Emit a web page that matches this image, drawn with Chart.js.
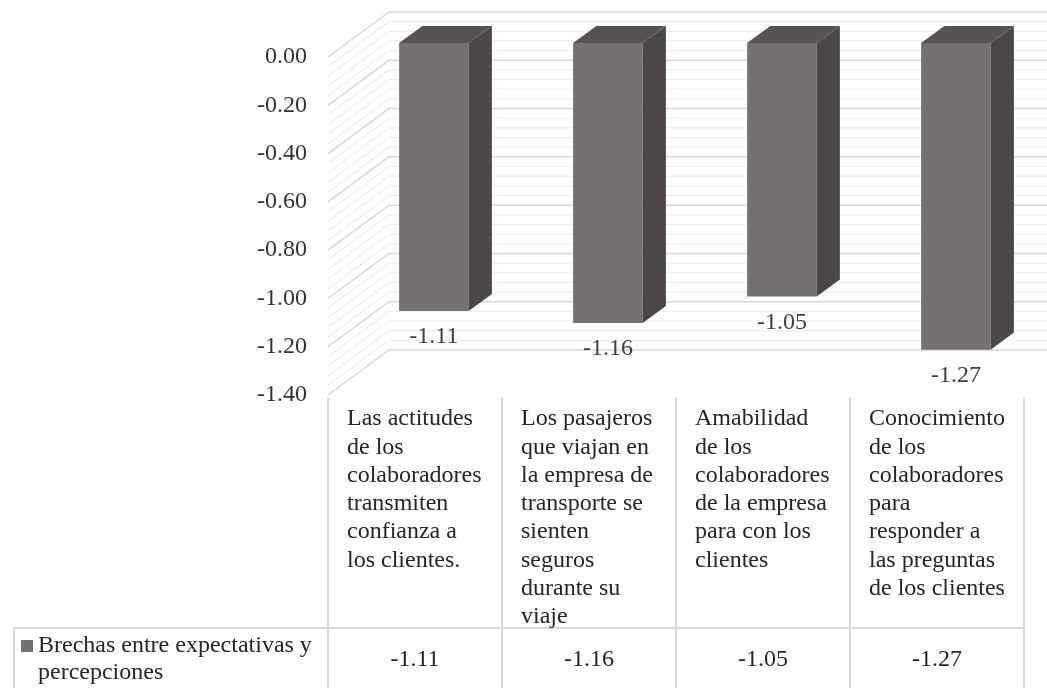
<!DOCTYPE html>
<html>
<head>
<meta charset="utf-8">
<script src="https://cdn.jsdelivr.net/npm/chart.js@4.4.1/dist/chart.umd.min.js"></script>
<style>
  html, body { margin: 0; padding: 0; background: #ffffff; }
  #wrap { width: 1047px; height: 688px; }
</style>
</head>
<body>
<div id="wrap"><canvas id="chart" width="1047" height="688"></canvas></div>
<script>
'use strict';

// data
let categories = [
    ['Las actitudes', 'de los', 'colaboradores', 'transmiten', 'confianza a', 'los clientes.'],
    ['Los pasajeros', 'que viajan en', 'la empresa de', 'transporte se', 'sienten', 'seguros', 'durante su', 'viaje'],
    ['Amabilidad', 'de los', 'colaboradores', 'de la empresa', 'para con los', 'clientes'],
    ['Conocimiento', 'de los', 'colaboradores', 'para', 'responder a', 'las preguntas', 'de los clientes']
];
let brechas = [-1.11, -1.16, -1.05, -1.27];
let seriesName = ['Brechas entre expectativas y', 'percepciones'];
let yMin = -1.4;
let yMax = 0;
let yStep = 0.2;
let minorStep = 0.04;

const SERIF = "'Liberation Serif', 'Times New Roman', serif";
const FRONT = '#757170';
const SIDE = '#4b4746';
const TOP = '#585352';

// 3d look: full depth of the walls, bars sit in the middle of it
const depthX = 61;
const depthY = 45;
const barFront = 0.31;
const barBack = 0.69;

const threeD = {
    id: 'threeD',
    beforeDatasetsDraw(chart) {
        const ctx = chart.ctx;
        const area = chart.chartArea;
        const y = chart.scales.y;
        ctx.save();
        let n = Math.round((yMax - yMin) / minorStep);
        for (let i = n; i >= 0; i--) {
            let v = yMax - i * minorStep;
            let py = y.getPixelForValue(v);
            let major = i % Math.round(yStep / minorStep) === 0;
            ctx.strokeStyle = major ? '#d9d9d9' : '#efefef';
            ctx.lineWidth = major ? 1.5 : 1.2;
            ctx.beginPath();
            ctx.moveTo(area.left, py);
            ctx.lineTo(area.left + depthX, py - depthY);
            ctx.lineTo(area.right + depthX, py - depthY);
            ctx.stroke();
        }
        ctx.restore();

        // bars are drawn a bit back into the box
        ctx.save();
        ctx.translate(depthX * barFront, -depthY * barFront);
    },
    afterDatasetsDraw(chart) {
        const ctx = chart.ctx;
        const meta = chart.getDatasetMeta(0);
        const dx = depthX * (barBack - barFront);
        const dy = depthY * (barBack - barFront);
        meta.data.forEach((bar, i) => {
            let left = bar.x - bar.width / 2;
            let right = bar.x + bar.width / 2;
            let top = Math.min(bar.y, bar.base);
            let bottom = Math.max(bar.y, bar.base);

            ctx.fillStyle = SIDE;
            ctx.beginPath();
            ctx.moveTo(right, top);
            ctx.lineTo(right + dx, top - dy);
            ctx.lineTo(right + dx, bottom - dy);
            ctx.lineTo(right, bottom);
            ctx.closePath();
            ctx.fill();

            ctx.fillStyle = TOP;
            ctx.beginPath();
            ctx.moveTo(left, top);
            ctx.lineTo(left + dx, top - dy);
            ctx.lineTo(right + dx, top - dy);
            ctx.lineTo(right, top);
            ctx.closePath();
            ctx.fill();

            ctx.fillStyle = '#404040';
            ctx.font = '24px ' + SERIF;
            ctx.textAlign = 'center';
            ctx.textBaseline = 'middle';
            ctx.fillText(brechas[i].toFixed(2), bar.x, bottom + 26);
        });
        ctx.restore();
    },
    afterDraw(chart) {
        // data table under the plot
        const ctx = chart.ctx;
        const area = chart.chartArea;
        const x = chart.scales.x;
        const colW = (area.right - area.left) / categories.length;
        const tableTop = area.bottom + 2;
        const rowTop = 628;
        const H = chart.height;

        ctx.save();
        ctx.strokeStyle = '#d9d9d9';
        ctx.lineWidth = 2;
        ctx.beginPath();
        for (let i = 0; i <= categories.length; i++) {
            let px = area.left + i * colW;
            ctx.moveTo(px, tableTop);
            ctx.lineTo(px, H);
        }
        ctx.moveTo(14, rowTop);
        ctx.lineTo(area.right, rowTop);
        ctx.moveTo(14, rowTop);
        ctx.lineTo(14, H);
        ctx.stroke();

        ctx.font = '24px ' + SERIF;
        ctx.fillStyle = '#262626';
        ctx.textBaseline = 'middle';
        categories.forEach((lines, i) => {
            let cx = x.getPixelForValue(i);
            ctx.textAlign = 'left';
            lines.forEach((line, j) => {
                ctx.fillText(line, cx - colW / 2 + 19, 419 + j * 28.3);
            });
            ctx.textAlign = 'center';
            ctx.fillText(brechas[i].toFixed(2), cx, 660);
        });

        ctx.fillStyle = FRONT;
        ctx.fillRect(21, 640, 12, 12);
        ctx.fillStyle = '#262626';
        ctx.textAlign = 'left';
        seriesName.forEach((line, j) => {
            ctx.fillText(line, 38, 646 + j * 27);
        });
        ctx.restore();
    }
};

const canvasEl = document.getElementById('chart');

new Chart(canvasEl, {
    type: 'bar',
    data: {
        labels: categories.map(c => c.join(' ')),
        datasets: [{
            label: seriesName.join(' '),
            data: brechas,
            backgroundColor: FRONT,
            borderWidth: 0,
            barPercentage: 0.4,
            categoryPercentage: 1
        }]
    },
    options: {
        responsive: false,
        animation: false,
        layout: {
            padding: { left: 0, top: 57, right: 23, bottom: 293 }
        },
        plugins: {
            legend: { display: false },
            tooltip: { enabled: false }
        },
        scales: {
            x: {
                display: false
            },
            y: {
                min: yMin,
                max: yMax,
                grid: { display: false, drawTicks: false },
                border: { display: false },
                ticks: {
                    stepSize: yStep,
                    padding: 21,
                    color: '#333333',
                    font: { family: SERIF, size: 24 },
                    callback: value => Number(value).toFixed(2)
                },
                afterFit(scale) {
                    scale.width = 328;
                }
            }
        }
    },
    plugins: [threeD]
});
</script>
</body>
</html>
